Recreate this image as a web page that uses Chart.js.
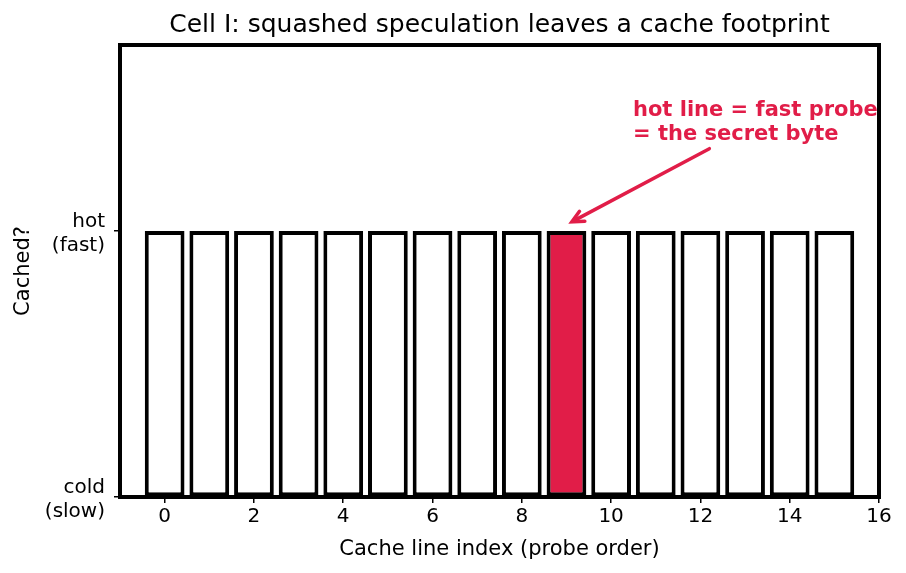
<!DOCTYPE html>
<html>
<head>
<meta charset="utf-8">
<script src="https://cdn.jsdelivr.net/npm/chart.js@4"></script>
<style>
  html, body { margin: 0; padding: 0; background: #fff; }
  #wrap { width: 906px; height: 573px; position: relative; }
</style>
</head>
<body>
<div id="wrap"><canvas id="chart"></canvas></div>
<script>
// cache lines probed, in order
const lineIndex = [0, 1, 2, 3, 4, 5, 6, 7, 8, 9, 10, 11, 12, 13, 14, 15];
// 1 = hot (cached), 0 = cold
const cached = [1, 1, 1, 1, 1, 1, 1, 1, 1, 1, 1, 1, 1, 1, 1, 1];
const secretLine = 9;
const xTicks = [0, 2, 4, 6, 8, 10, 12, 14, 16];
const yTickValues = [0, 1];
const yTickLabels = [["cold", "(slow)"], ["hot", "(fast)"]];

const RED = "#e11d48";
const FONT = "'DejaVu Sans', sans-serif";
const TITLE = "Cell I: squashed speculation leaves a cache footprint";

// annotation text and arrow, in data units
const noteText = ["hot line = fast probe", "= the secret byte"];
const noteAt = { x: 10.49, y: 1.343 };
const arrowFrom = { x: 12.2, y: 1.31 };
const arrowTo = { x: 9.12, y: 1.035 };

const frame = {
  id: "frame",
  afterDatasetsDraw(chart) {
    const { ctx, chartArea: a, scales } = chart;
    const x = scales.x, y = scales.y;

    // arrow
    const x0 = x.getPixelForValue(arrowFrom.x), y0 = y.getPixelForValue(arrowFrom.y);
    const x1 = x.getPixelForValue(arrowTo.x), y1 = y.getPixelForValue(arrowTo.y);
    const ang = Math.atan2(y1 - y0, x1 - x0);
    ctx.save();
    ctx.strokeStyle = RED;
    ctx.lineWidth = 3.5;
    ctx.lineCap = "round";
    ctx.beginPath();
    ctx.moveTo(x0, y0);
    ctx.lineTo(x1 - 2 * Math.cos(ang), y1 - 2 * Math.sin(ang));
    ctx.stroke();
    ctx.beginPath();
    ctx.moveTo(x1 - 13 * Math.cos(ang - 0.45), y1 - 13 * Math.sin(ang - 0.45));
    ctx.lineTo(x1, y1);
    ctx.lineTo(x1 - 13 * Math.cos(ang + 0.45), y1 - 13 * Math.sin(ang + 0.45));
    ctx.stroke();

    // note text
    ctx.fillStyle = RED;
    ctx.font = "bold 21px " + FONT;
    ctx.textBaseline = "alphabetic";
    ctx.textAlign = "left";
    const tx = x.getPixelForValue(noteAt.x), ty = y.getPixelForValue(noteAt.y);
    ctx.fillText(noteText[0], tx, ty - 24);
    ctx.fillText(noteText[1], tx, ty);
    ctx.restore();

    // plot box
    ctx.save();
    ctx.strokeStyle = "#000";
    ctx.lineWidth = 4;
    ctx.strokeRect(a.left, a.top, a.right - a.left, a.bottom - a.top);

    // title, centred over the plot box
    ctx.fillStyle = "#000";
    ctx.font = "25px " + FONT;
    ctx.textAlign = "center";
    ctx.textBaseline = "middle";
    ctx.fillText(TITLE, (a.left + a.right) / 2, a.top - 20);
    ctx.restore();
  },
};

new Chart(document.getElementById("chart"), {
  type: "bar",
  data: {
    datasets: [{
      data: lineIndex.map((i, k) => ({ x: i, y: cached[k] })),
      backgroundColor: lineIndex.map((i) => (i === secretLine ? RED : "#fff")),
      borderColor: "#000",
      borderWidth: 4,
      borderSkipped: false,
      // width 0.8 plus a stroke centred on the edge, as in the reference
      barPercentage: 0.89,
      categoryPercentage: 1,
    }],
  },
  options: {
    responsive: true,
    maintainAspectRatio: false,
    animation: false,
    layout: { padding: { left: 0, right: 27, top: 45, bottom: 0 } },
    plugins: {
      legend: { display: false },
      tooltip: { enabled: false },
      title: { display: false },
    },
    scales: {
      x: {
        type: "linear",
        min: -1,
        max: 16,
        offset: false,
        afterBuildTicks: (s) => { s.ticks = xTicks.map((v) => ({ value: v })); },
        afterFit: (s) => { s.height = 76; },
        ticks: { color: "#000", font: { family: FONT, size: 20 }, padding: 2, maxRotation: 0 },
        grid: { offset: false, drawOnChartArea: false, drawTicks: true, tickLength: 6, color: "#000", lineWidth: 1.5 },
        border: { display: false },
        title: {
          display: true,
          text: "Cache line index (probe order)",
          color: "#000",
          font: { family: FONT, size: 21, lineHeight: 1.2 },
          padding: { top: 0, bottom: 11 },
        },
      },
      y: {
        min: 0,
        max: 1.7,
        afterBuildTicks: (s) => { s.ticks = yTickValues.map((v) => ({ value: v })); },
        afterFit: (s) => { s.width = 120; },
        ticks: {
          color: "#000",
          font: { family: FONT, size: 20, lineHeight: 1.2 },
          padding: 9,
          labelOffset: 3,
          align: "center",
          callback: (v) => yTickLabels[yTickValues.indexOf(v)],
        },
        grid: { drawOnChartArea: false, drawTicks: true, tickLength: 6, color: "#000", lineWidth: 1.5 },
        border: { display: false },
        title: {
          display: true,
          text: "Cached?",
          color: "#000",
          font: { family: FONT, size: 21, lineHeight: 1.2 },
          padding: { top: 11, bottom: 0 },
        },
      },
    },
  },
  plugins: [frame],
});
</script>
</body>
</html>
